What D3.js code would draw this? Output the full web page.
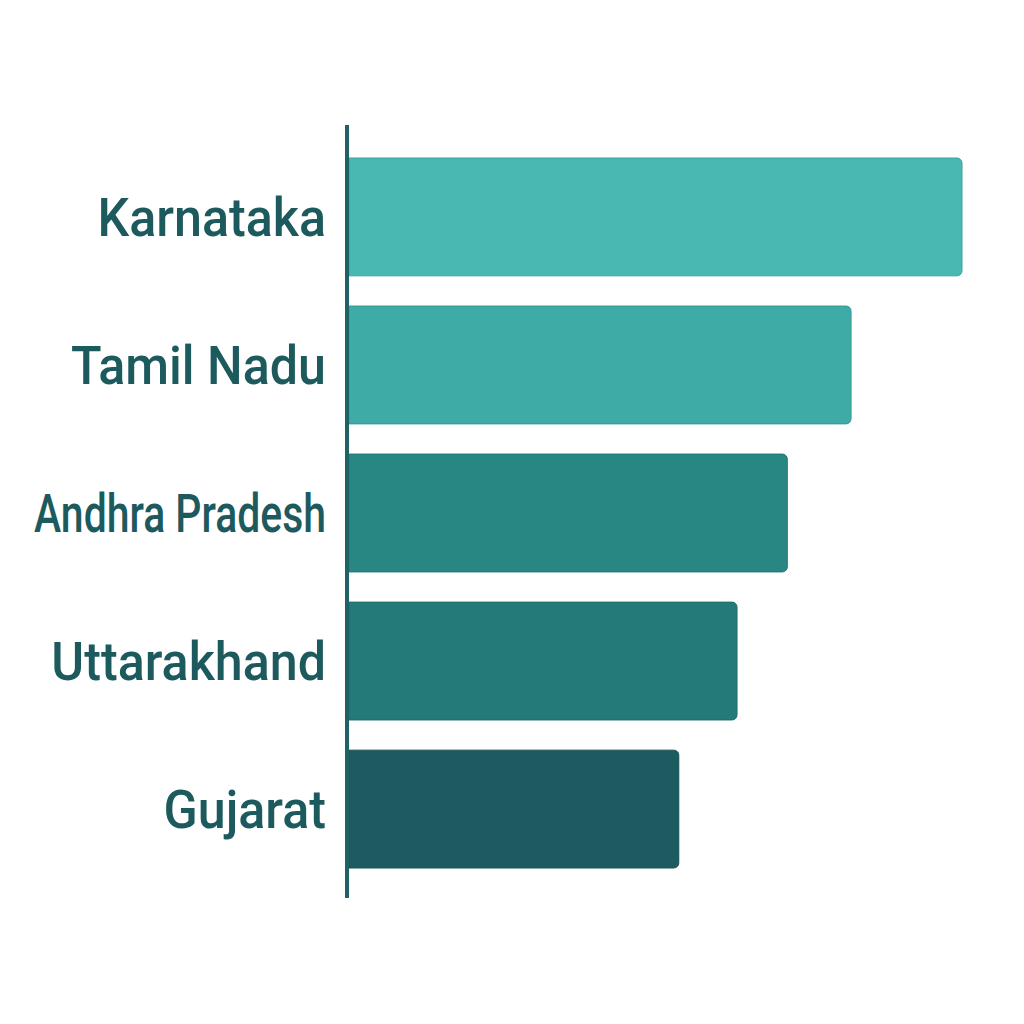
<!DOCTYPE html>
<html>
<head>
<meta charset="utf-8">
<script src="https://cdn.jsdelivr.net/npm/d3@7"></script>
<style>
  html, body { margin: 0; padding: 0; background: #ffffff; }
  svg { display: block; }
</style>
</head>
<body>
<svg id="chart" width="1024" height="1024"></svg>
<script>
// ---- data ----
const categories = ["Karnataka", "Tamil Nadu", "Andhra Pradesh", "Uttarakhand", "Gujarat"];
const values = [100, 81.9, 71.5, 63.3, 53.8];
const barColors = ["#49b8b2", "#3eaba7", "#288683", "#247a78", "#1c5c60"];

// ---- layout ----
const axisX = 347;
const barStart = 349;
const axisTop = 125, axisBottom = 898;

const svg = d3.select("#chart");

const x = d3.scaleLinear().domain([0, 100]).range([barStart, 962]);
const y = d3.scaleBand().domain(categories).range([128, 898])
  .paddingInner(0.204).paddingOuter(0.2027);

const color = d3.scaleOrdinal().domain(categories).range(barColors);

function barPath(x0, y0, w, h, r) {
  const p = d3.path();
  p.moveTo(x0, y0);
  p.lineTo(x0 + w - r, y0);
  p.arcTo(x0 + w, y0, x0 + w, y0 + r, r);
  p.lineTo(x0 + w, y0 + h - r);
  p.arcTo(x0 + w, y0 + h, x0 + w - r, y0 + h, r);
  p.lineTo(x0, y0 + h);
  p.closePath();
  return p.toString();
}

const data = categories.map((c, i) => ({ cat: c, val: values[i] }));

svg.append("g").selectAll("path.bar")
  .data(data)
  .join("path")
  .attr("class", "bar")
  .attr("d", d => barPath(x(0), y(d.cat), x(d.val) - x(0), y.bandwidth(), 5))
  .attr("fill", d => color(d.cat))
  .attr("stroke", d => d3.color(color(d.cat)).darker(0.35))
  .attr("stroke-width", 1);

// axis line
svg.append("line")
  .attr("x1", axisX).attr("x2", axisX)
  .attr("y1", axisTop).attr("y2", axisBottom)
  .attr("stroke", "#1e6265")
  .attr("stroke-width", 4);

// labels
const labelRight = 326;
const maxLabelW = 292;
const labels = svg.append("g").selectAll("text")
  .data(data)
  .join("text")
  .attr("text-anchor", "end")
  .attr("x", 0).attr("y", 0)
  .attr("font-family", "Roboto, 'Open Sans', sans-serif")
  .attr("font-weight", 500)
  .attr("font-size", 54)
  .attr("fill", "#1d5a5e")
  .text(d => d.cat);

labels.each(function(d) {
  const w = this.getComputedTextLength();
  const s = Math.min(0.93, maxLabelW / w);
  const cy = y(d.cat) + y.bandwidth() / 2;
  d3.select(this).attr("transform", `translate(${labelRight},${cy + 19}) scale(${s},1)`);
});
</script>
</body>
</html>
